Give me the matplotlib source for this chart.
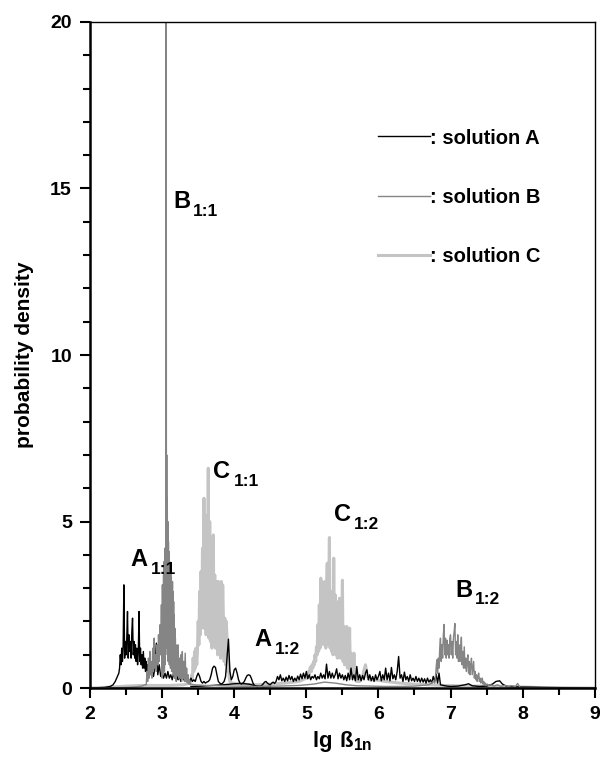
import numpy as np
import matplotlib
matplotlib.use("Agg")
import matplotlib.pyplot as plt
from matplotlib.lines import Line2D
from matplotlib.ticker import MultipleLocator

plt.rcParams['font.family'] = ['Liberation Sans', 'DejaVu Sans']
plt.rcParams['font.weight'] = 'bold'
plt.rcParams['mathtext.fontset'] = 'custom'
plt.rcParams['mathtext.bf'] = 'Liberation Sans:bold'
plt.rcParams['mathtext.rm'] = 'Liberation Sans:bold'

# ---- solution A (black) ----
a_pre_x = [2.0, 2.1, 2.2, 2.28, 2.32, 2.35, 2.38]
a_pre_y = [0.0, 0.01, 0.02, 0.05, 0.1, 0.2, 0.35]
a_peak_start, a_peak_step = 2.40, 0.01
a_peak = [0.45, 0.6, 1.0, 0.7, 1.2, 0.8, 1.3, 3.1, 0.9, 1.4,
          1.0, 1.5, 2.3, 0.9, 1.6, 1.1, 1.4, 0.9, 1.7, 2.1,
          1.0, 1.4, 0.9, 1.3, 0.8, 1.2, 0.7, 1.1, 2.3, 0.8,
          1.2, 0.7, 1.0, 0.6, 1.1, 0.6, 0.9, 0.5, 0.8, 0.45,
          0.7, 0.4, 0.6, 0.45, 0.7, 0.4, 0.55]
a_mid_start, a_mid_step = 2.88, 0.02
a_mid = [0.35, 0.6, 1.35, 0.4, 0.7, 0.35, 0.5, 0.3, 0.45, 0.3,
         0.5, 0.3, 0.4, 0.25, 0.45, 0.3, 0.4, 0.25, 0.35, 0.2,
         0.35, 0.25, 0.3, 0.2, 0.28, 0.18, 0.3, 0.2, 0.25, 0.2,
         0.35, 0.45, 0.35, 0.2, 0.15, 0.2, 0.15, 0.18, 0.2, 0.25,
         0.4, 0.6, 0.66, 0.62, 0.4, 0.2, 0.15, 0.12, 0.15, 0.2,
         0.35, 0.9, 1.47, 0.5, 0.25, 0.35, 0.55, 0.6, 0.45, 0.25,
         0.15, 0.12, 0.15, 0.2, 0.3, 0.38, 0.4, 0.38, 0.28, 0.15,
         0.08, 0.05, 0.04, 0.05, 0.05, 0.08]
a_broad_start, a_broad_step = 4.40, 0.02
a_broad = [0.12, 0.18, 0.2, 0.15, 0.12, 0.1, 0.15, 0.18, 0.14, 0.2,
           0.35, 0.25, 0.4, 0.22, 0.3, 0.2, 0.33, 0.22, 0.38, 0.25,
           0.35, 0.2, 0.3, 0.22, 0.36, 0.25, 0.42, 0.28, 0.45, 0.3,
           0.5, 0.28, 0.4, 0.25, 0.35, 0.3, 0.4, 0.25, 0.35, 0.28,
           0.45, 0.3, 0.4, 0.28, 0.72, 0.3, 0.5, 0.3, 0.45, 0.3,
           0.4, 0.58, 0.28, 0.45, 0.3, 0.4, 0.25, 0.38, 0.22, 0.45,
           0.25, 0.6, 0.25, 0.4, 0.22, 0.65, 0.25, 0.4, 0.22, 0.38,
           0.25, 0.45, 0.55, 0.25, 0.4, 0.22, 0.35, 0.2, 0.4, 0.25,
           0.35, 0.5, 0.22, 0.4, 0.25, 0.6, 0.25, 0.45, 0.22, 0.62,
           0.28, 0.4, 0.25, 0.5, 0.95, 0.3, 0.4, 0.2, 0.48, 0.25,
           0.35, 0.2, 0.4, 0.22, 0.3, 0.2, 0.35, 0.2, 0.3, 0.18,
           0.3, 0.18, 0.28, 0.15, 0.3, 0.18, 0.25, 0.15, 0.35, 0.2,
           0.42, 0.15, 0.45, 0.1]
a_tail_x = [6.90, 6.95, 7.0, 7.1, 7.2, 7.25, 7.3, 7.4, 7.5, 7.58,
            7.63, 7.68, 7.72, 7.78, 7.9, 8.1, 8.3, 8.6, 9.0]
a_tail_y = [0.08, 0.06, 0.05, 0.06, 0.1, 0.13, 0.07, 0.05, 0.06, 0.12,
            0.2, 0.22, 0.12, 0.05, 0.04, 0.03, 0.02, 0.01, 0.0]
a_low_x = [3.40, 3.55, 3.7, 3.85, 4.0, 4.1, 4.2, 4.3, 4.4, 4.5]
a_low_y = [0.05, 0.06, 0.08, 0.1, 0.13, 0.14, 0.12, 0.07, 0.04, 0.05]

# ---- solution B (grey) ----
b_pre_x = [2.0, 2.3, 2.5, 2.65, 2.72, 2.76]
b_pre_y = [0.0, 0.01, 0.02, 0.04, 0.06, 0.1]
b_rise_start, b_rise_step = 2.78, 0.01
b_rise = [0.1, 0.5, 0.2, 0.9, 0.3, 1.1, 0.4, 0.8, 0.3, 1.2,
          0.5, 1.5, 0.6, 1.0, 0.5, 1.3, 0.7, 1.6, 0.8, 1.9,
          1.0, 2.5]
b_peak_start, b_peak_step = 3.00, 0.004
b_peak = [0.3, 3.1, 0.5, 3.0, 0.4, 3.4, 0.6, 3.8, 0.5, 4.2,
          0.7, 3.9, 1.0, 4.5, 30.0, 1.5, 7.0, 1.2, 5.7, 1.0,
          5.0, 0.8, 4.4, 0.9, 4.1, 0.7, 3.8, 0.8, 3.6, 0.6,
          3.5, 0.7, 3.3, 0.5, 3.0, 0.6, 3.2, 0.5, 2.9, 0.4,
          2.6, 0.4, 2.2, 0.3, 1.8, 0.3, 1.5, 0.3, 1.3, 0.2,
          1.1]
b_fall_start, b_fall_step = 3.21, 0.01
b_fall = [0.4, 1.3, 0.3, 0.9, 0.3, 1.0, 0.2, 1.1, 0.3, 0.8,
          0.2, 1.05, 0.2, 0.6, 0.15, 0.4, 0.12, 0.25, 0.1, 0.12]
b_mid_x = [3.45, 3.6, 3.8, 4.0, 4.3, 4.6, 4.9, 5.1, 5.25, 5.4,
           5.55, 5.7, 5.9, 6.1, 6.3, 6.5, 6.7, 6.76]
b_mid_y = [0.1, 0.08, 0.07, 0.06, 0.05, 0.06, 0.08, 0.12, 0.18, 0.15,
           0.1, 0.07, 0.06, 0.05, 0.05, 0.06, 0.1, 0.2]
b_12_start, b_12_step = 6.78, 0.01
b_12 = [0.15, 0.3, 0.6, 0.85, 0.45, 0.9, 0.6, 1.2, 1.5, 0.8,
        1.3, 0.9, 1.6, 1.91, 1.0, 1.5, 0.9, 1.44, 1.0, 1.3,
        0.9, 1.5, 1.6, 1.0, 1.4, 0.9, 1.5, 1.7, 1.94, 1.0,
        1.4, 0.9, 1.6, 0.8, 1.3, 0.8, 1.2, 1.53, 0.7, 1.1,
        0.6, 1.24, 0.6, 0.9, 0.5, 0.8, 1.0, 0.45, 0.8, 0.4,
        0.7, 0.9, 0.4, 0.6, 0.8, 0.3, 0.5, 0.25, 0.4, 0.2,
        0.35, 0.45, 0.2, 0.3, 0.15, 0.25, 0.3, 0.12, 0.2, 0.1,
        0.15, 0.08, 0.12, 0.12, 0.08]
b_tail_x = [7.56, 7.6, 7.65, 7.7, 7.75, 7.8, 7.85, 7.9, 7.93, 7.96,
            8.0, 8.2, 8.5, 9.0]
b_tail_y = [0.1, 0.06, 0.1, 0.05, 0.08, 0.05, 0.07, 0.05, 0.14, 0.03,
            0.02, 0.01, 0.0, 0.0]

# ---- solution C (light grey) ----
c_pre_x = [2.0, 2.3, 2.5, 2.7, 2.9, 3.1, 3.3, 3.38]
c_pre_y = [0.0, 0.03, 0.06, 0.08, 0.08, 0.08, 0.1, 0.15]
c_11_start, c_11_step = 3.40, 0.01
c_11 = [0.2, 0.4, 0.3, 0.9, 0.5, 1.1, 0.6, 1.2, 0.7, 1.1,
        2.0, 1.3, 2.9, 1.6, 3.5, 2.0, 4.2, 1.8, 5.7, 2.2,
        5.2, 1.6, 4.0, 2.0, 6.6, 1.5, 5.0, 1.4, 4.4, 1.2,
        4.0, 4.6, 1.3, 3.4, 1.2, 3.0, 3.2, 1.0, 3.2, 1.1,
        3.0, 0.9, 3.2, 1.0, 3.1, 2.1, 0.8, 2.1, 0.7, 2.0,
        1.5, 0.5, 0.8, 0.3, 0.2]
c_mid_x = [3.97, 4.1, 4.3, 4.5, 4.7, 4.9, 5.0]
c_mid_y = [0.15, 0.12, 0.1, 0.12, 0.15, 0.2, 0.3]
c_12_start, c_12_step = 5.02, 0.01
c_12 = [0.35, 0.5, 0.4, 0.6, 0.64, 0.5, 0.7, 0.6, 0.8, 0.7,
        1.0, 0.8, 1.24, 1.0, 1.9, 1.1, 2.5, 1.2, 3.3, 1.3,
        3.2, 1.4, 3.0, 1.3, 3.2, 1.2, 2.8, 3.75, 1.3, 3.0,
        4.52, 1.2, 2.8, 1.1, 2.9, 1.0, 3.9, 1.1, 2.8, 1.0,
        2.6, 0.9, 2.5, 1.0, 2.7, 0.9, 2.4, 1.0, 3.24, 0.8,
        1.85, 0.7, 1.8, 0.7, 1.85, 0.6, 1.7, 0.6, 1.8, 0.5,
        1.05, 0.5, 1.0, 0.4, 1.05, 0.45, 0.3, 0.25, 0.2]
c_tail_x = [5.74, 5.78, 5.80, 5.82, 5.84, 5.87, 5.95, 6.1, 6.3, 6.5,
            6.7, 6.9, 7.1, 7.3, 7.5, 7.7, 7.9, 8.2, 9.0]
c_tail_y = [0.2, 0.35, 0.55, 0.7, 0.4, 0.25, 0.25, 0.2, 0.15, 0.12,
            0.1, 0.08, 0.07, 0.06, 0.06, 0.05, 0.04, 0.02, 0.0]

# peak labels: (letter, subscript, x, y)
peak_labels = [("B", "1:1", 3.15, 14.6), ("C", "1:1", 3.71, 6.5),
               ("A", "1:1", 2.56, 3.85), ("C", "1:2", 5.38, 5.2),
               ("B", "1:2", 7.06, 2.94), ("A", "1:2", 4.28, 1.45)]
legend_labels = [": solution A", ": solution B", ": solution C"]


def grid(start, step, vals):
    return start + step * np.arange(len(vals)), np.array(vals)


def join(parts):
    xs = np.concatenate([np.asarray(p[0], float) for p in parts])
    ys = np.concatenate([np.asarray(p[1], float) for p in parts])
    return xs, ys


a_x, a_y = join([(a_pre_x, a_pre_y), grid(a_peak_start, a_peak_step, a_peak),
                 grid(a_mid_start, a_mid_step, a_mid),
                 grid(a_broad_start, a_broad_step, a_broad), (a_tail_x, a_tail_y)])
b_x, b_y = join([(b_pre_x, b_pre_y), grid(b_rise_start, b_rise_step, b_rise),
                 grid(b_peak_start, b_peak_step, b_peak),
                 grid(b_fall_start, b_fall_step, b_fall), (b_mid_x, b_mid_y),
                 grid(b_12_start, b_12_step, b_12), (b_tail_x, b_tail_y)])
c_x, c_y = join([(c_pre_x, c_pre_y), grid(c_11_start, c_11_step, c_11),
                 (c_mid_x, c_mid_y), grid(c_12_start, c_12_step, c_12),
                 (c_tail_x, c_tail_y)])

col_a, col_b, col_c = 'black', '#858585', '#c4c4c4'

fig, ax = plt.subplots(figsize=(6.02, 7.57), dpi=100)
fig.subplots_adjust(left=0.1495, right=0.988, bottom=0.091, top=0.971)

ax.plot(c_x, c_y, color=col_c, lw=2.2)
ax.plot(a_low_x, a_low_y, color=col_a, lw=1.0)
ax.plot(a_x, a_y, color=col_a, lw=1.0)
ax.plot(b_x, b_y, color=col_b, lw=1.0)

ax.set_xlim(2, 9)
ax.set_ylim(0, 20)
ax.xaxis.set_major_locator(MultipleLocator(1))
ax.xaxis.set_minor_locator(MultipleLocator(0.5))
ax.yaxis.set_major_locator(MultipleLocator(5))
ax.yaxis.set_minor_locator(MultipleLocator(1))
ax.tick_params(which='major', direction='out', length=7, width=1.5,
               labelsize=14, pad=6)
ax.tick_params(which='minor', direction='out', length=5, width=1.5)
for lab in ax.get_xticklabels() + ax.get_yticklabels():
    lab.set_fontweight('bold')
ax.spines['left'].set_linewidth(1.8)
ax.spines['bottom'].set_linewidth(1.8)
ax.spines['top'].set_linewidth(1.0)
ax.spines['right'].set_linewidth(1.0)

ax.set_ylabel('probability density', fontsize=15, fontweight='bold', labelpad=12)
ax.set_xlabel(r'$\mathbf{lg\ ß}_{\mathbf{1n}}$', fontsize=16, labelpad=4)

for letter, sub, x, y in peak_labels:
    ax.text(x, y, letter, fontsize=17, fontweight='bold', va='center', ha='left')
    ax.annotate(sub, (x, y), xytext=(14.5, -7), textcoords='offset points',
                fontsize=12.5, fontweight='bold', va='center', ha='left')

handles = [Line2D([], [], color=col_a, lw=1.0),
           Line2D([], [], color=col_b, lw=1.0),
           Line2D([], [], color=col_c, lw=2.2)]
ax.legend(handles, legend_labels, loc='upper left', bbox_to_anchor=(0.57, 0.84),
          frameon=False, handlelength=2.6, handletextpad=0.0, labelspacing=1.99,
          borderpad=0, borderaxespad=0, prop={'weight': 'bold', 'size': 14.5})

fig.savefig('out.png', dpi=100)
